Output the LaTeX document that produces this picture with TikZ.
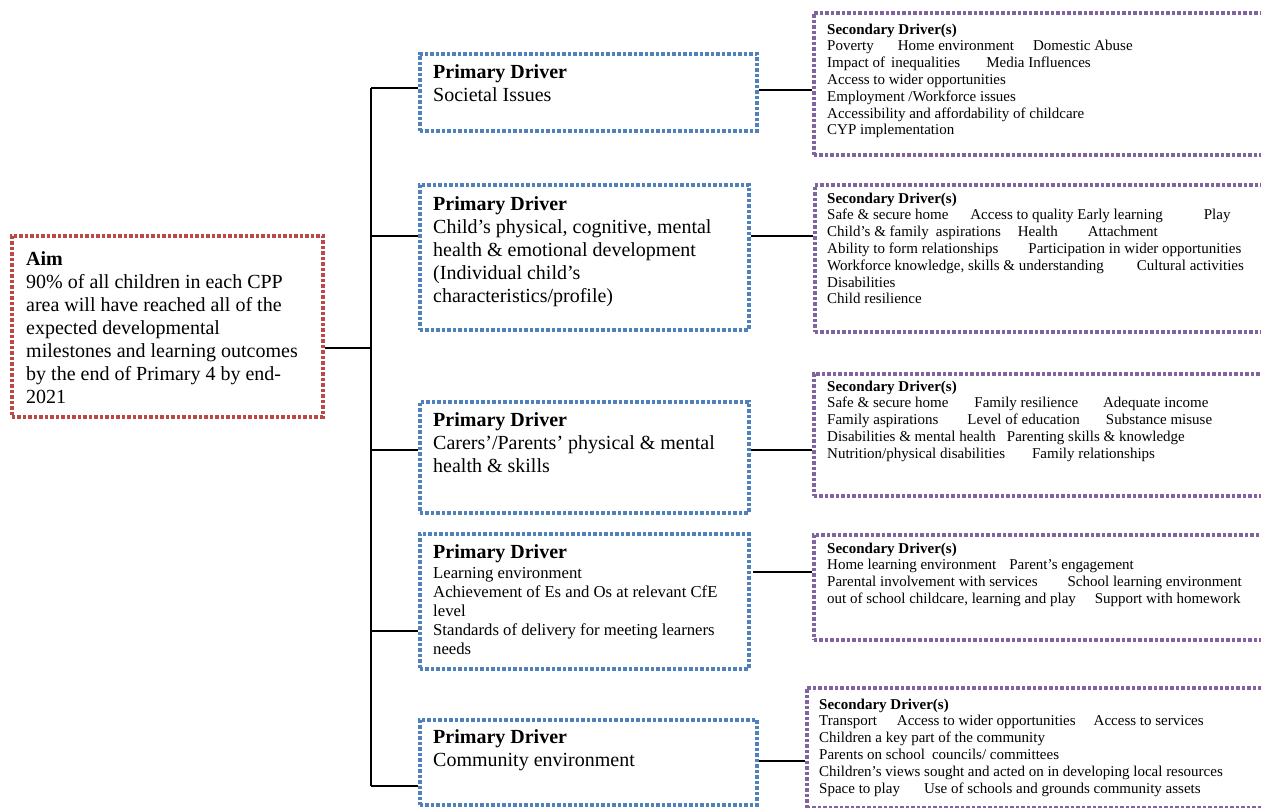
\documentclass[tikz,border=0pt]{standalone}
\usepackage{fontspec}
\setmainfont{Liberation Serif}
\definecolor{aimred}{RGB}{185,74,72}
\definecolor{pblue}{RGB}{79,129,189}
\definecolor{spurple}{RGB}{128,100,162}
\begin{document}
\begin{tikzpicture}[x=1pt,y=-1pt,
  dotbox/.style={draw, line width=3.8pt, dash pattern=on 3.5pt off 2pt, rectangle, inner sep=0pt, anchor=north west},
  aimbox/.style={dotbox, draw=aimred},
  pbox/.style={dotbox, draw=pblue},
  sbox/.style={dotbox, draw=spurple},
  txtbase/.style={anchor=north west, inner sep=0pt, align=left},
  bigtxt/.style={txtbase, font=\fontsize{20}{23}\selectfont},
  midtxt/.style={txtbase, font=\fontsize{16.7}{19}\selectfont},
  smalltxt/.style={txtbase, font=\fontsize{15}{16.8}\selectfont},
  link/.style={draw=black, line width=2pt}
]
\useasboundingbox (0,0) rectangle (1261,808);
\clip (0,0) rectangle (1261,808);
\fill[white] (0,0) rectangle (1261,808);

% boxes
\node[aimbox, minimum width=311pt, minimum height=181pt] (aim) at (10,234) {};
\node[pbox, minimum width=337pt, minimum height=77pt] (p1) at (418,52) {};
\node[pbox, minimum width=329pt, minimum height=145pt] (p2) at (418,183) {};
\node[pbox, minimum width=329pt, minimum height=111pt] (p3) at (418,400) {};
\node[pbox, minimum width=329pt, minimum height=135pt] (p4) at (418,532) {};
\node[pbox, minimum width=337pt, minimum height=85pt] (p5) at (418,718) {};
\node[sbox, minimum width=470pt, minimum height=142pt] (s1) at (812,11) {};
\node[sbox, minimum width=470pt, minimum height=147pt] (s2) at (813,183) {};
\node[sbox, minimum width=470pt, minimum height=122pt] (s3) at (812,372) {};
\node[sbox, minimum width=470pt, minimum height=105pt] (s4) at (812,533) {};
\node[sbox, minimum width=470pt, minimum height=120pt] (s5) at (805,686) {};

% texts
\node[bigtxt] (aimt) at (26,248.9) {\strut\textbf{Aim}\\90\% of all children in each CPP\\area will have reached all of the\\expected developmental\\milestones and learning outcomes\\by the end of Primary 4 by end-\\2021};
\node[bigtxt] (p1t) at (433,61.9) {\strut\textbf{Primary Driver}\\Societal Issues};
\node[bigtxt] (p2t) at (433,193.9) {\strut\textbf{Primary Driver}\\Child’s physical, cognitive, mental\\health \& emotional development\\(Individual child’s\\characteristics/profile)};
\node[bigtxt] (p3t) at (433,409.9) {\strut\textbf{Primary Driver}\\Carers’/Parents’ physical \& mental\\health \& skills};
\node[bigtxt] (p4t) at (433,541.9) {\strut\textbf{Primary Driver}};
\node[midtxt] (p4b) at (433,564.7) {\strut Learning environment\\Achievement of Es and Os at relevant CfE\\level\\Standards of delivery for meeting learners\\needs};
\node[bigtxt] (p5t) at (433,726.9) {\strut\textbf{Primary Driver}\\Community environment};

\node[smalltxt] (s1t) at (827,22.2) {\strut\textbf{Secondary Driver(s)}\\
Poverty\hspace{24pt}Home environment\hspace{19pt}Domestic Abuse\\
Impact of\hspace{6pt}inequalities\hspace{26pt}Media Influences\\
Access to wider opportunities\\
Employment /Workforce issues\\
Accessibility and affordability of childcare\\
CYP implementation};
\node[smalltxt] (s2t) at (827,191.2) {\strut\textbf{Secondary Driver(s)}\\
Safe \& secure home\hspace{22pt}Access to quality Early learning\hspace{41pt}Play\\
Child’s \& family\hspace{7pt}aspirations\hspace{17pt}Health\hspace{30pt}Attachment\\
Ability to form relationships\hspace{30pt}Participation in wider opportunities\\
Workforce knowledge, skills \& understanding\hspace{33pt}Cultural activities\\
Disabilities\\
Child resilience};
\node[smalltxt] (s3t) at (827,379.2) {\strut\textbf{Secondary Driver(s)}\\
Safe \& secure home\hspace{26pt}Family resilience\hspace{25pt}Adequate income\\
Family aspirations\hspace{29pt}Level of education\hspace{26pt}Substance misuse\\
Disabilities \& mental health\hspace{11pt}Parenting skills \& knowledge\\
Nutrition/physical disabilities\hspace{27pt}Family relationships};
\node[smalltxt] (s4t) at (827,541.2) {\strut\textbf{Secondary Driver(s)}\\
Home learning environment\hspace{13pt}Parent’s engagement\\
Parental involvement with services\hspace{30pt}School learning environment\\
out of school childcare, learning and play\hspace{19pt}Support with homework};
\node[smalltxt] (s5t) at (819,697.2) {\strut\textbf{Secondary Driver(s)}\\
Transport\hspace{20pt}Access to wider opportunities\hspace{18pt}Access to services\\
Children a key part of the community\\
Parents on school\hspace{7pt}councils/ committees\\
Children’s views sought and acted on in developing local resources\\
Space to play\hspace{24pt}Use of schools and grounds community assets};

% connector coordinates
\coordinate (trunk) at (371,0);
\coordinate (ya) at (0,348);
\coordinate (y1) at (0,88);
\coordinate (y2) at (0,236);
\coordinate (y3) at (0,450);
\coordinate (y4) at (0,631);
\coordinate (y5) at (0,786);
\coordinate (r1) at (0,90);
\coordinate (r2) at (0,236);
\coordinate (r3) at (0,450);
\coordinate (r4) at (0,572);
\coordinate (r5) at (0,761);
\coordinate (r4start) at (753,572);

% trunk
\draw[link] (aim.east |- ya) -- (trunk |- ya);
\draw[link] (trunk |- y1) -- (trunk |- y5);
\draw[link] (trunk |- y1) -- (p1.west |- y1);
\draw[link] (trunk |- y2) -- (p2.west |- y2);
\draw[link] (trunk |- y3) -- (p3.west |- y3);
\draw[link] (trunk |- y4) -- (p4.west |- y4);
\draw[link] (trunk |- y5) -- (p5.west |- y5);

% right connectors
\draw[link] (p1.east |- r1) -- (s1.west |- r1);
\draw[link] (p2.east |- r2) -- (s2.west |- r2);
\draw[link] (p3.east |- r3) -- (s3.west |- r3);
\draw[link] (r4start) -- (s4.west |- r4);
\draw[link] (p5.east |- r5) -- (s5.west |- r5);
\end{tikzpicture}
\end{document}
